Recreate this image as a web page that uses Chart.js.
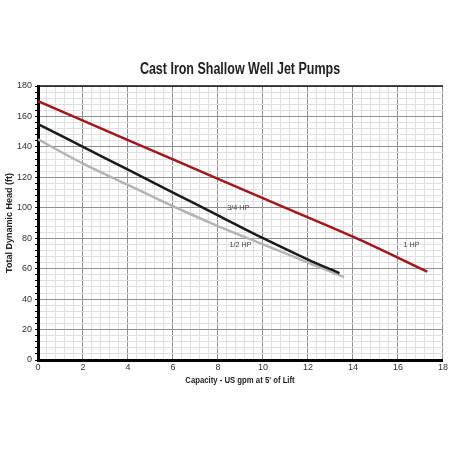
<!DOCTYPE html>
<html>
<head>
<meta charset="utf-8">
<script src="https://cdn.jsdelivr.net/npm/chart.js@4"></script>
<style>
  html, body { margin: 0; padding: 0; background: #fff; }
  #wrap { width: 450px; height: 450px; }
</style>
</head>
<body>
<div id="wrap"><canvas id="pumpChart" width="450" height="450"></canvas></div>
<script>
// Pump curves (capacity gpm, head ft)
const hp1Gpm    = [0, 4, 8, 11, 14, 17.3];
const hp1Head   = [170, 144.5, 119, 100, 81, 58];
const hp34Gpm   = [0, 2, 4, 6, 8, 10, 12, 13.4];
const hp34Head  = [155, 140, 125, 110, 95, 80, 66, 57];
const hp12Gpm   = [0, 2, 4, 6, 8, 10, 12, 13.6];
const hp12Head  = [145, 129, 115, 101, 88, 76, 64, 54.5];

const seriesLabels = ['1 HP', '3/4 HP', '1/2 HP'];
const labelSpots   = [[16.6, 76], [8.9, 100], [9.0, 76]];

const FONT = "'Liberation Sans', Arial, sans-serif";

function toPoints(xs, ys) {
  return xs.map((x, i) => ({ x: x, y: ys[i] }));
}
function isMajor(v, step) {
  const r = v / step;
  return Math.abs(r - Math.round(r)) < 1e-6;
}

// narrow text: draw with a horizontal squeeze
function narrowText(ctx, text, cx, cy, sx) {
  ctx.save();
  ctx.translate(cx, cy);
  ctx.scale(sx, 1);
  ctx.fillText(text, 0, 0);
  ctx.restore();
}

const decorations = {
  id: 'decorations',
  afterDraw(chart) {
    const { ctx, scales: { x, y }, chartArea } = chart;
    ctx.save();
    ctx.fillStyle = '#222';
    ctx.textAlign = 'center';
    ctx.textBaseline = 'middle';
    ctx.font = 'bold 16px ' + FONT;
    narrowText(ctx, 'Cast Iron Shallow Well Jet Pumps', 240, 70, 0.78);

    ctx.font = 'bold 9px ' + FONT;
    narrowText(ctx, "Capacity - US gpm at 5' of Lift", 240, 381, 0.86);

    ctx.save();
    ctx.translate(10, 223);
    ctx.rotate(-Math.PI / 2);
    ctx.fillText('Total Dynamic Head (ft)', 0, 0);
    ctx.restore();

    ctx.font = '8px ' + FONT;
    ctx.fillStyle = '#444';
    seriesLabels.forEach((t, i) => {
      narrowText(ctx, t, x.getPixelForValue(labelSpots[i][0]), y.getPixelForValue(labelSpots[i][1]), 0.9);
    });

    // top frame line
    ctx.strokeStyle = '#111';
    ctx.lineWidth = 1.5;
    ctx.beginPath();
    ctx.moveTo(chartArea.left, chartArea.top);
    ctx.lineTo(chartArea.right, chartArea.top);
    ctx.stroke();
    ctx.restore();
  }
};

new Chart(document.getElementById('pumpChart'), {
  type: 'line',
  data: {
    datasets: [
      { label: seriesLabels[0], data: toPoints(hp1Gpm, hp1Head),  borderColor: '#a3161c', borderWidth: 2.5 },
      { label: seriesLabels[1], data: toPoints(hp34Gpm, hp34Head), borderColor: '#1a1a1a', borderWidth: 2.5 },
      { label: seriesLabels[2], data: toPoints(hp12Gpm, hp12Head), borderColor: '#b4b4b4', borderWidth: 2.5 },
    ]
  },
  options: {
    responsive: false,
    animation: false,
    layout: { padding: { top: 86, right: 7, left: 0, bottom: 0 } },
    elements: { point: { radius: 0 }, line: { tension: 0.3, fill: false } },
    plugins: { legend: { display: false }, title: { display: false }, tooltip: { enabled: false } },
    scales: {
      x: {
        type: 'linear', min: 0, max: 18,
        afterFit: s => { s.height = 90; },
        afterBuildTicks: s => {
          const t = [];
          for (let i = 0; i <= 45; i++) t.push({ value: +(i * 0.4).toFixed(2) });
          s.ticks = t;
        },
        ticks: {
          autoSkip: false, maxRotation: 0, color: '#333', padding: 2,
          font: { family: FONT, size: 9 },
          callback: v => isMajor(v, 2) ? String(Math.round(v)) : ''
        },
        grid: {
          color: c => isMajor(c.tick.value, 2) ? '#909090' : '#e0e0e0',
          lineWidth: 1,
          drawTicks: false
        },
        border: { color: '#000', width: 3 }
      },
      y: {
        type: 'linear', min: 0, max: 180,
        afterFit: s => { s.width = 38; },
        afterBuildTicks: s => {
          const t = [];
          for (let i = 0; i <= 45; i++) t.push({ value: i * 4 });
          s.ticks = t;
        },
        ticks: {
          autoSkip: false, color: '#333', padding: 3,
          font: { family: FONT, size: 9 },
          callback: v => isMajor(v, 20) ? String(v) : ''
        },
        grid: {
          color: c => isMajor(c.tick.value, 20) ? '#909090' : '#e0e0e0',
          tickColor: '#000',
          tickLength: 3,
          lineWidth: 1
        },
        border: { color: '#000', width: 3 }
      }
    }
  },
  plugins: [decorations]
});
</script>
</body>
</html>
